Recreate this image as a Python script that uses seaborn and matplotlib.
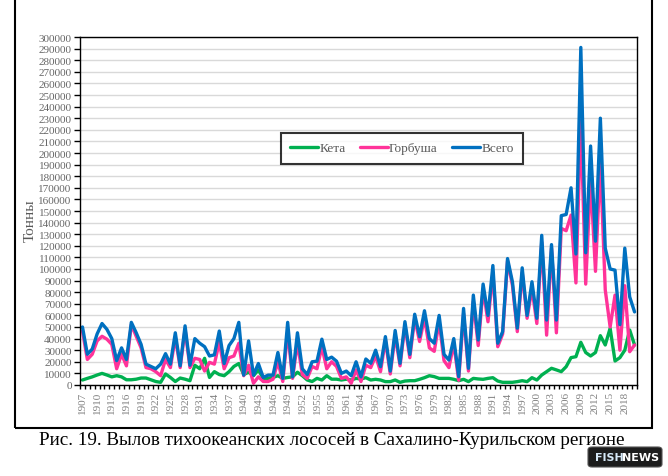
import numpy as np
import pandas as pd
import seaborn as sns
import matplotlib.pyplot as plt
from matplotlib.patches import Rectangle, FancyBboxPatch
from matplotlib.ticker import FuncFormatter

# catch of Pacific salmon, tonnes, 1907-2020
years = list(range(1907, 2021))

keta = [4300, 5700, 7000, 8600, 10000, 8600, 7000, 8000, 7000, 4500,
        4500, 5000, 6000, 6000, 4500, 3000, 2300, 9500, 6500, 3000,
        6000, 5000, 3700, 17000, 14000, 23000, 6500, 11500, 9000, 8000,
        11500, 16000, 18500, 9000, 11000, 8000, 13000, 5700, 5700, 6500,
        8000, 5700, 6500, 7000, 11000, 8000, 4300, 3000, 5700, 4300,
        8000, 5000, 5000, 4300, 5000, 4300, 5700, 5200, 6300, 4300,
        4900, 4300, 2900, 2900, 4300, 2300, 3400, 3700, 3700, 4900,
        6300, 8000, 7200, 5700, 5700, 5700, 4900, 3700, 4900, 2900,
        5700, 5200, 4900, 5700, 6300, 3400, 2300, 2300, 2300, 2900,
        3700, 2900, 6300, 4300, 8600, 11500, 14400, 13000, 11500, 15800,
        23600, 24400, 36800, 28000, 25000, 28000, 42500, 34500, 48900, 20700,
        23600, 30000, 47400, 34500]

gorbusha = [46500, 22000, 26500, 38000, 42000, 39500, 35000, 14000, 26500, 16500,
            52000, 42000, 32000, 15000, 14000, 11500, 8000, 22000, 15000, 41000,
            15000, 48000, 15000, 23000, 22000, 12000, 19500, 18000, 37000, 14000,
            23500, 25000, 36000, 8000, 17000, 1500, 7000, 3000, 3000, 5000,
            20000, 3000, 46000, 5700, 36500, 9000, 5700, 16000, 14000, 33000,
            14000, 20000, 16000, 5700, 7000, 1500, 13000, 3000, 17000, 15000,
            25000, 11500, 38500, 9500, 43000, 16500, 51500, 23500, 57500, 37500,
            58000, 32000, 29000, 54500, 21000, 15000, 35500, 4000, 61500, 12000,
            72000, 34000, 82500, 54500, 97000, 33000, 44000, 107000, 86000, 46000,
            97000, 57500, 83000, 53000, 123000, 43000, 118000, 45000, 135000, 133000,
            146500, 88000, 228000, 87000, 178000, 98000, 193000, 82000, 50000, 77500,
            30000, 85600, 28700, 34500]

vsego = [50000, 26500, 31000, 44000, 53000, 48000, 40000, 21000, 32000, 22000,
         54000, 45000, 35000, 18000, 16000, 14000, 18000, 27000, 18000, 45000,
         16500, 51000, 17000, 40000, 36000, 33000, 25000, 26000, 46500, 18500,
         34000, 40000, 54000, 8500, 38000, 8500, 18500, 6500, 8500, 8500,
         28000, 5700, 54000, 7000, 45000, 14000, 9000, 20000, 20500, 39500,
         22000, 24000, 20500, 10000, 12000, 8000, 20000, 7000, 22400, 18700,
         30000, 15800, 41700, 12000, 47000, 18700, 54600, 26400, 61000, 41700,
         64000, 40000, 36000, 60000, 26400, 21500, 40000, 7200, 66000, 14400,
         77500, 38800, 87000, 60000, 103000, 36000, 46000, 109000, 89000, 49000,
         101000, 60000, 89000, 57500, 129000, 56000, 121000, 56000, 146000, 147000,
         170000, 113000, 291000, 114000, 206000, 124000, 230000, 118000, 100000, 99000,
         52000, 118000, 76000, 63000]

series_names = ["Кета", "Горбуша", "Всего"]
colors = ["#00b050", "#ff3399", "#0070c0"]

df = pd.DataFrame({"Год": years, "Кета": keta, "Горбуша": gorbusha, "Всего": vsego})
df_long = df.melt(id_vars="Год", var_name="Вид", value_name="Тонны")

sns.set_style("ticks")
plt.rcParams["font.family"] = ["Liberation Serif", "DejaVu Serif"]

fig = plt.figure(figsize=(6.68, 4.77), dpi=100)
ax = fig.add_axes([0.1198, 0.1908, 0.8338, 0.7295])

sns.lineplot(data=df_long, x="Год", y="Тонны", hue="Вид", hue_order=series_names,
             palette=colors, linewidth=2.4, ax=ax)

ax.set_xlim(1906.5, 2020.5)
ax.set_ylim(0, 300000)

# y axis
ax.set_yticks(np.arange(0, 300001, 10000))
ax.yaxis.set_major_formatter(FuncFormatter(lambda v, p: f"{int(v)}"))
ax.tick_params(axis="y", direction="out", length=4, width=1, color="black",
               labelsize=8, labelcolor="#666666", pad=2)
ax.yaxis.grid(True, color="#d9d9d9", lw=1)
ax.set_axisbelow(True)

# x axis
ax.set_xticks(range(1907, 2019, 3))
ax.set_xticklabels([str(y) for y in range(1907, 2019, 3)], rotation=90)
ax.set_xticks(np.arange(1906.5, 2021, 1), minor=True)
ax.tick_params(axis="x", which="major", length=0, labelsize=8,
               labelcolor="#808080", pad=4)
ax.tick_params(axis="x", which="minor", direction="out", length=3, width=1, color="black")

ax.set_xlabel("")
ax.set_ylabel("Тонны", fontsize=11, color="#595959")
ax.yaxis.set_label_coords(-0.078, 0.474)

for s in ax.spines.values():
    s.set_color("black")
    s.set_linewidth(1)

handles, labels = ax.get_legend_handles_labels()
leg = ax.legend(handles, labels, loc="center", bbox_to_anchor=(0.578, 0.68), ncol=3,
                frameon=True, fancybox=False, edgecolor="black", fontsize=9.5,
                handlelength=2.1, columnspacing=1.1, handletextpad=0.1,
                borderpad=0.7, borderaxespad=0, labelcolor="#595959")
leg.get_frame().set_linewidth(1.5)

# outer frame of the chart
fig.add_artist(Rectangle((15 / 668, 1 - 429 / 477), 637 / 668, 1.2, transform=fig.transFigure,
                         fill=False, edgecolor="black", lw=1.5))

fig.text(0.497, 1 - 441 / 477, "Рис. 19. Вылов тихоокеанских лососей в Сахалино-Курильском регионе",
         ha="center", va="center", fontsize=13.8, color="black")

# logo
fig.add_artist(FancyBboxPatch((588 / 668, 1 - 468 / 477), 74 / 668, 20 / 477,
                              boxstyle="round,pad=0,rounding_size=0.006",
                              transform=fig.transFigure, facecolor="#1c1c1c",
                              edgecolor="#555555", lw=0.8))
fig.text(595 / 668, 1 - 458 / 477, "FISH", ha="left", va="center", fontsize=8,
         fontweight="bold", color="#d6e8f7", family="DejaVu Sans")
fig.text(622 / 668, 1 - 458 / 477, "NEWS", ha="left", va="center", fontsize=8,
         fontweight="bold", color="white", family="DejaVu Sans")

fig.savefig("out.png", dpi=100)
